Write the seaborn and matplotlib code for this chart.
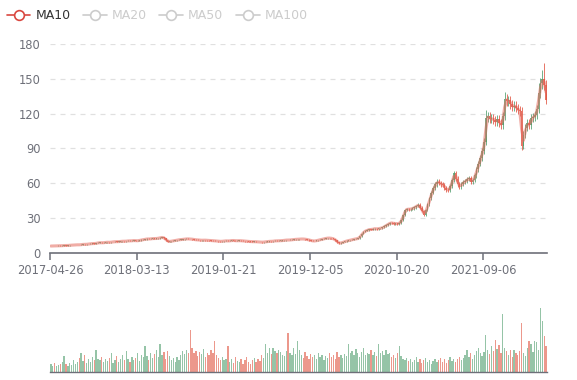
import numpy as np
import pandas as pd
import matplotlib
matplotlib.use("Agg")
import matplotlib.pyplot as plt
from matplotlib.lines import Line2D
import seaborn as sns

# ---------------- data (weekly) ----------------
close = [
    6.0, 6.1, 6.0, 6.2, 6.3, 6.2, 6.4, 6.5, 6.4, 6.6,
    6.7, 6.8, 6.9, 7.0, 7.1, 7.0, 7.3, 7.5, 7.4, 7.6,
    7.8, 8.0, 8.2, 8.1, 8.5, 8.8, 8.9, 8.7, 9.0, 9.2,
    9.3, 9.1, 9.5, 9.6, 9.8, 9.7, 9.9, 10.0, 10.2, 10.1,
    10.3, 10.5, 10.4, 10.6, 10.8, 10.5, 10.6, 11.0, 11.3, 11.6,
    11.9, 12.2, 12.0, 12.3, 12.5, 12.4, 12.6, 12.8, 13.2, 13.5,
    12.6, 11.0, 9.8, 10.0, 10.3, 10.6, 10.9, 11.2, 11.5, 11.6,
    11.8, 12.0, 12.2, 12.1, 12.0, 11.8, 11.5, 11.3, 11.2, 11.0,
    11.0, 11.1, 11.0, 10.9, 10.8, 10.7, 10.5, 10.4, 10.3, 10.1,
    10.0, 10.2, 10.4, 10.5, 10.3, 10.6, 10.8, 10.7, 10.5, 10.6,
    10.6, 10.5, 10.3, 10.2, 10.0, 9.9, 9.8, 9.7, 9.8, 9.6,
    9.5, 9.4, 9.3, 9.5, 9.7, 9.9, 10.1, 10.0, 10.3, 10.5,
    10.4, 10.6, 10.6, 10.8, 11.0, 11.2, 11.1, 11.3, 11.5, 11.7,
    11.8, 11.9, 12.0, 12.1, 12.0, 11.8, 11.5, 11.0, 10.6, 10.3,
    10.4, 10.8, 11.2, 11.6, 12.0, 12.4, 12.7, 12.9, 12.8, 12.5,
    12.0, 10.8, 9.2, 8.3, 8.8, 9.5, 10.0, 10.5, 10.8, 11.2,
    11.6, 12.0, 12.3, 12.6, 14.5, 16.5, 18.4, 19.2, 19.8, 20.4,
    20.1, 20.8, 21.0, 20.6, 21.2, 21.3, 22.0, 23.0, 24.0, 25.0,
    26.0, 25.8, 25.3, 25.5, 25.0, 26.0, 28.5, 33.0, 37.0, 38.0,
    37.5, 38.0, 38.5, 39.5, 40.5, 41.4, 39.0, 36.0, 33.0, 37.0,
    42.0, 47.0, 52.0, 56.0, 59.0, 61.5, 60.5, 59.0, 58.6, 56.0,
    54.5, 54.0, 58.0, 63.0, 68.7, 64.0, 59.0, 57.0, 59.5, 61.0,
    62.0, 63.5, 64.4, 61.5, 63.0, 67.0, 72.0, 77.0, 82.0, 88.0,
    96.0, 116.0, 118.0, 115.0, 116.0, 114.5, 113.0, 115.0, 112.0, 110.0,
    118.0, 133.0, 130.5, 131.5, 128.0, 126.0, 127.0, 125.0, 123.0, 122.0,
    92.0, 102.0, 108.0, 112.0, 110.0, 116.0, 117.0, 119.0, 124.0, 138.0,
    146.0, 150.0, 145.0, 132.0,
]

volume = [
    12, 10, 14, 9, 11, 13, 15, 25, 12, 10,
    14, 11, 18, 13, 15, 22, 29, 17, 26, 14,
    20, 16, 23, 19, 35, 21, 18, 24, 15, 20,
    17, 22, 29, 14, 19, 25, 16, 21, 27, 18,
    33, 20, 15, 24, 18, 22, 29, 17, 26, 23,
    40, 25, 19, 30, 22, 28, 35, 24, 44, 27,
    31, 20, 32, 25, 18, 22, 16, 24, 19, 27,
    32, 28, 35, 30, 65, 38, 29, 33, 25, 31,
    28, 36, 24, 30, 27, 34, 29, 48, 26, 22,
    19, 24, 18, 21, 41, 16, 20, 14, 23, 17,
    15, 21, 13, 18, 24, 16, 12, 19, 22, 15,
    20, 17, 26, 22, 43, 30, 38, 28, 37, 33,
    29, 35, 31, 27, 25, 33, 60, 30, 26, 38,
    28, 49, 34, 27, 22, 31, 25, 20, 28, 24,
    26, 21, 30, 23, 27, 19, 25, 22, 29, 24,
    27, 20, 31, 23, 26, 22, 28, 25, 44, 30,
    33, 27, 36, 29, 24, 31, 38, 26, 30, 28,
    34, 27, 31, 25, 44, 29, 33, 26, 35, 28,
    30, 24, 27, 22, 29, 40, 25, 20, 18, 22,
    17, 21, 15, 19, 23, 16, 20, 14, 18, 22,
    16, 19, 13, 17, 21, 15, 18, 22, 16, 20,
    14, 19, 23, 17, 21, 15, 20, 24, 18, 22,
    27, 35, 24, 30, 21, 26, 32, 38, 29, 25,
    31, 57, 34, 28, 40, 33, 50, 36, 42, 30,
    91, 38, 32, 27, 35, 24, 35, 29, 26, 33,
    76, 30, 25, 38, 48, 44, 31, 48, 47, 35,
    100, 79, 56, 40,
]

# notable extremes (index: value)
spike_high = {231: 123.0, 241: 139.0, 243: 135.0, 259: 146.0, 261: 158.0, 262: 163.8}
spike_low = {250: 88.8, 263: 130.0, 198: 31.5, 153: 7.8}

tick_labels = ["2017-04-26", "2018-03-13", "2019-01-21",
               "2019-12-05", "2020-10-20", "2021-09-06"]
y_ticks = [0, 30, 60, 90, 120, 150, 180]
legend_names = ["MA10", "MA20", "MA50", "MA100"]

# ---------------- derived ----------------
n = len(close)
idx = np.arange(n)
c = np.array(close, dtype=float)
o = np.concatenate([[c[0]], c[:-1]])
wick = 0.03
hi = np.maximum(o, c) * (1 + wick)
lo = np.minimum(o, c) * (1 - wick)
for k, v in spike_high.items():
    hi[k] = max(hi[k], v)
for k, v in spike_low.items():
    lo[k] = min(lo[k], v)
up = c >= o
ma10 = pd.Series(c).rolling(2, min_periods=1).mean()

UP = "#4f9d6c"
DOWN = "#e0533f"
cols = np.where(up, UP, DOWN)

sns.set_theme(style="white")
plt.rcParams["font.family"] = ["DejaVu Sans"]

fig = plt.figure(figsize=(5.77, 3.80), dpi=100)
L, R = 50 / 577, 547 / 577
ax = fig.add_axes([L, 1 - 253 / 380, R - L, 209 / 380])
axv = fig.add_axes([L, 1 - 372 / 380, R - L, 72 / 380])

# candles
ax.vlines(idx, lo, hi, colors=cols, lw=0.7, alpha=0.8, zorder=2)
body = np.maximum(np.abs(c - o), 0.25)
ax.bar(idx, body, bottom=np.minimum(o, c), width=0.85, color=cols,
       alpha=0.8, linewidth=0, zorder=3)
sns.lineplot(x=idx, y=ma10, ax=ax, color="#e46a5e", lw=2.2, alpha=0.55,
             zorder=4, legend=False)

ax.set_xlim(-0.5, n - 0.5)
ax.set_ylim(0, 180)
ax.set_yticks(y_ticks)
ax.set_yticklabels([str(v) for v in y_ticks])
ax.yaxis.grid(True, color="#e0e0e0", linestyle=(0, (4, 4)), lw=0.9)
ax.xaxis.grid(False)
step = n / 5.734
tick_pos = [-0.5 + k * step for k in range(len(tick_labels))]
ax.set_xticks(tick_pos)
ax.set_xticklabels(tick_labels)
for s in ["top", "right", "left"]:
    ax.spines[s].set_visible(False)
ax.spines["bottom"].set_color("#6e7079")
ax.spines["bottom"].set_linewidth(1.2)
ax.tick_params(axis="x", length=5, width=1.1, color="#6e7079", pad=3,
               labelsize=8.3, labelcolor="#6e7079", bottom=True)
ax.tick_params(axis="y", length=0, pad=7, labelsize=8.3, labelcolor="#6e7079")
ax.set_xlabel("")
ax.set_ylabel("")

# volume
axv.bar(idx, volume, width=0.7, color=cols, alpha=0.6, linewidth=0)
axv.set_xlim(-0.5, n - 0.5)
axv.set_ylim(0, 112)
axv.set_xticks([])
axv.set_yticks([])
for s in ["top", "right", "left"]:
    axv.spines[s].set_visible(False)
axv.spines["bottom"].set_color("#6e7079")
axv.spines["bottom"].set_linewidth(1.0)

# legend
handles = []
for i, name in enumerate(legend_names):
    colr = "#d9473f" if i == 0 else "#cccccc"
    handles.append(Line2D([0], [0], color=colr, lw=1.2, marker="o",
                          markersize=7, markerfacecolor="white",
                          markeredgecolor=colr, markeredgewidth=1.2))
leg = fig.legend(handles, legend_names, loc="upper left",
                 bbox_to_anchor=(-0.008, 1.005), ncol=4, frameon=False,
                 fontsize=9, handlelength=1.9, handletextpad=0.4,
                 columnspacing=1.0)
for i, t in enumerate(leg.get_texts()):
    t.set_color("#333333" if i == 0 else "#cccccc")

fig.savefig("out.png", dpi=100)
